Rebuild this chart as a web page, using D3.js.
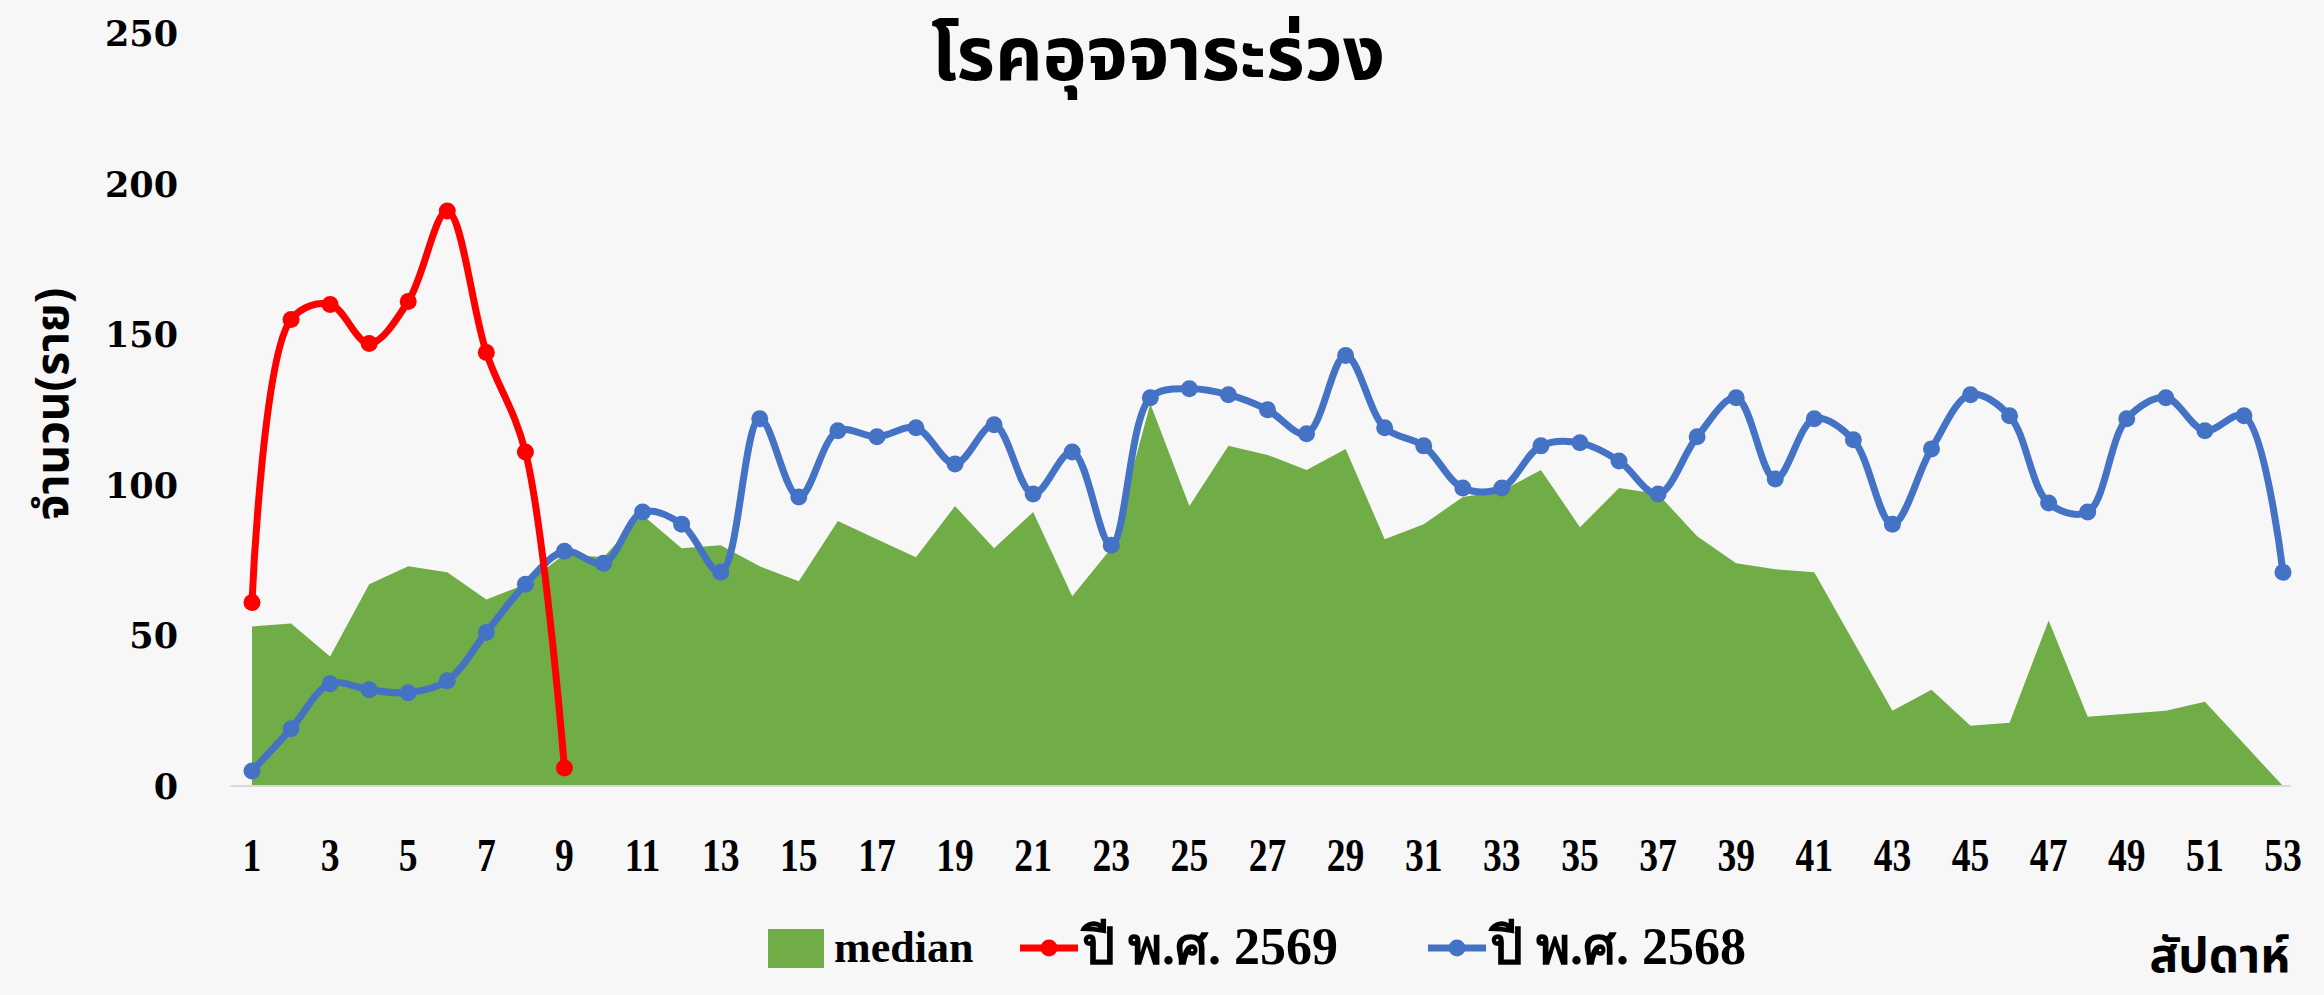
<!DOCTYPE html>
<html lang="th">
<head>
    <meta charset="utf-8">
    <title>โรคอุจจาระร่วง</title>
    <script src="https://d3js.org/d3.v7.min.js"></script>
    <style>
        body { margin: 0; background: #f7f7f7; }
        svg { display: block; background: #f7f7f7; }
        .title { font-family: "Noto Sans Thai", "Noto Sans", sans-serif; font-weight: bold; font-size: 74px; text-anchor: middle; fill: #000; }
        .y-axis text { font-family: "DejaVu Serif", serif; font-weight: bold; font-size: 35px; fill: #000; }
        .x-axis text { font-family: "Liberation Serif", serif; font-weight: bold; font-size: 47px; fill: #000; }
        .axis-title { font-family: "Noto Sans Thai", "Noto Sans", sans-serif; font-weight: bold; fill: #000; }
        .legend text { font-family: "Liberation Serif", serif; font-weight: bold; font-size: 44px; fill: #000; }
        .legend text.thai { font-size: 52px; }
    </style>
</head>
<body>
<svg id="chart" width="2324" height="995"></svg>
<script>
    const weeks = [1, 2, 3, 4, 5, 6, 7, 8, 9, 10, 11, 12, 13, 14, 15, 16, 17, 18, 19, 20,
        21, 22, 23, 24, 25, 26, 27, 28, 29, 30, 31, 32, 33, 34, 35, 36, 37, 38, 39, 40,
        41, 42, 43, 44, 45, 46, 47, 48, 49, 50, 51, 52, 53];
    const weekTicks = [1, 3, 5, 7, 9, 11, 13, 15, 17, 19, 21, 23, 25, 27, 29, 31, 33, 35, 37, 39, 41, 43, 45, 47, 49, 51, 53];
    const yTicks = [0, 50, 100, 150, 200, 250];

    // median ย้อนหลัง
    const median = [53, 54, 43, 67, 73, 71, 62, 67, 77, 76, 90, 79, 80, 73, 68, 88, 82, 76, 93, 79,
        91, 63, 79, 127, 93, 113, 110, 105, 112, 82, 87, 96, 98, 105, 86, 99, 97, 83, 74, 72,
        71, 48, 25, 32, 20, 21, 55, 23, 24, 25, 28, 14, 0];
    // ปี พ.ศ. 2569
    const y2569 = [61, 155, 160, 147, 161, 191, 144, 111, 6];
    // ปี พ.ศ. 2568
    const y2568 = [5, 19, 34, 32, 31, 35, 51, 67, 78, 74, 91, 87, 71, 122, 96, 118, 116, 119, 107, 120,
        97, 111, 80, 129, 132, 130, 125, 117, 143, 119, 113, 99, 99, 113, 114, 108, 97, 116, 129, 102,
        122, 115, 87, 112, 130, 123, 94, 91, 122, 129, 118, 123, 71];

    const colors = { median: "#70ad47", y2569: "#ff0000", y2568: "#4472c4" };

    const svg = d3.select("#chart");

    const x = d3.scaleLinear().domain([1, 53]).range([252, 2283]);
    const y = d3.scaleLinear().domain([0, 250]).range([786, 33.5]);

    // พื้นที่ median
    const area = d3.area()
        .x((d, i) => x(weeks[i]))
        .y0(y(0))
        .y1(d => y(d));

    svg.append("path")
        .datum(median)
        .attr("d", area)
        .attr("fill", colors.median);

    // เส้นแกน x
    svg.append("line")
        .attr("x1", x(0.45))
        .attr("x2", x(53.2))
        .attr("y1", y(0))
        .attr("y2", y(0))
        .attr("stroke", "#d9d9d9")
        .attr("stroke-width", 2);

    const line = d3.line()
        .x((d, i) => x(weeks[i]))
        .y(d => y(d))
        .curve(d3.curveCatmullRom.alpha(0.5));

    function drawSeries(data, color) {
        svg.append("path")
            .datum(data)
            .attr("d", line)
            .attr("fill", "none")
            .attr("stroke", color)
            .attr("stroke-width", 7)
            .attr("stroke-linejoin", "round");

        svg.append("g")
            .selectAll("circle")
            .data(data)
            .join("circle")
            .attr("cx", (d, i) => x(weeks[i]))
            .attr("cy", d => y(d))
            .attr("r", 8.5)
            .attr("fill", color);
    }

    drawSeries(y2568, colors.y2568);
    drawSeries(y2569, colors.y2569);

    // แกน y
    const yAxis = svg.append("g")
        .attr("class", "y-axis")
        .attr("transform", "translate(178,0)")
        .call(d3.axisLeft(y).tickValues(yTicks).tickSize(0).tickPadding(0));
    yAxis.select(".domain").remove();
    yAxis.selectAll("text").attr("dy", "0.35em");

    // แกน x
    const xAxis = svg.append("g")
        .attr("class", "x-axis")
        .call(d3.axisBottom(x).tickValues(weekTicks).tickSize(0).tickPadding(0));
    xAxis.select(".domain").remove();
    xAxis.selectAll(".tick").attr("transform", d => `translate(${x(d)},838)`);
    xAxis.selectAll(".tick text")
        .attr("dy", "0.71em")
        .attr("transform", "scale(0.8,1)");

    // ชื่อกราฟ
    svg.append("text")
        .attr("class", "title")
        .attr("x", 1158)
        .attr("y", 80)
        .text("โรคอุจจาระร่วง");

    // ชื่อแกน
    svg.append("text")
        .attr("class", "axis-title")
        .attr("transform", "translate(68,404) rotate(-90)")
        .attr("text-anchor", "middle")
        .attr("font-size", 46)
        .text("จำนวน(ราย)");

    svg.append("text")
        .attr("class", "axis-title")
        .attr("x", 2290)
        .attr("y", 972)
        .attr("text-anchor", "end")
        .attr("font-size", 48)
        .text("สัปดาห์");

    // คำอธิบาย
    const legend = svg.append("g").attr("class", "legend");
    const legendItems = [
        { key: "median", label: "median", x: 768 },
        { key: "y2569", label: "ปี พ.ศ. 2569", x: 1020 },
        { key: "y2568", label: "ปี พ.ศ. 2568", x: 1428 }
    ];
    legendItems.forEach(item => {
        const g = legend.append("g").attr("transform", `translate(${item.x},948)`);
        if (item.key === "median") {
            g.append("rect").attr("x", 0).attr("y", -19).attr("width", 56).attr("height", 39)
                .attr("fill", colors.median);
            g.append("text").attr("x", 66).attr("y", 14).text(item.label);
        } else {
            g.append("line").attr("x1", 0).attr("x2", 58).attr("y1", 0).attr("y2", 0)
                .attr("stroke", colors[item.key]).attr("stroke-width", 7);
            g.append("circle").attr("cx", 29).attr("cy", 0).attr("r", 8.5).attr("fill", colors[item.key]);
            g.append("text").attr("class", "thai").attr("x", 62).attr("y", 16).text(item.label);
        }
    });
</script>
</body>
</html>
